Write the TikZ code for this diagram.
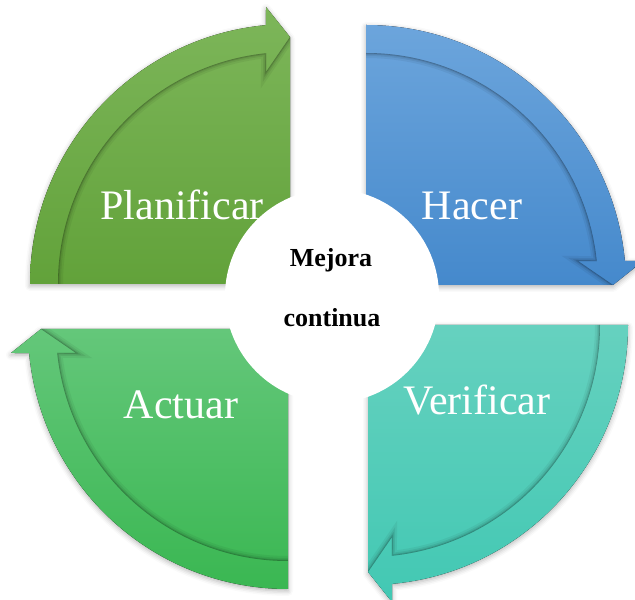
\documentclass[tikz,border=0pt]{standalone}
\usepackage{fontspec}
\setmainfont{Liberation Serif}
\usetikzlibrary{shadows.blur}

\definecolor{planA}{HTML}{7DB65A}
\definecolor{planB}{HTML}{62A23A}
\definecolor{hacerA}{HTML}{6CA5DC}
\definecolor{hacerB}{HTML}{4589CC}
\definecolor{verifA}{HTML}{66D1BF}
\definecolor{verifB}{HTML}{42C8B3}
\definecolor{actuarA}{HTML}{64C77A}
\definecolor{actuarB}{HTML}{3AB752}

\newcommand{\quadrant}[4]{%
  \begin{scope}[shift={#1},rotate=#2]
    \fill[top color=#3,bottom color=#4,blur shadow={shadow xshift=0pt,shadow yshift=-2pt,shadow blur radius=5pt,shadow opacity=30}]
      (0,0) -- (-260,0) arc[start angle=180,end angle=95.3,radius=260] -- (-24,277) -- (0,247) -- cycle;
    \begin{scope}
      \clip (0,0) -- (-232,0) arc[start angle=180,end angle=95.9,radius=232] -- (-24,212) -- (0,247) -- cycle;
      \foreach \w/\o in {10/0.05,6/0.07,3/0.1,1.2/0.14}
        \draw[band shadow,line width=\w pt,opacity=\o] (-232,0) arc[start angle=180,end angle=95.9,radius=232] -- (-24,212) -- (0,247);
    \end{scope}
  \end{scope}}

\begin{document}
\begin{tikzpicture}[x=1pt,y=1pt,band shadow/.style={black,line join=miter},
  label node/.style={text=white,anchor=base,font=\fontsize{42}{48}\selectfont},
  center node/.style={text=black,anchor=base,font=\bfseries\fontsize{26}{30}\selectfont}]
\useasboundingbox (0,0) rectangle (635,600);

\quadrant{(290,316)}{0}{planA}{planB}
\quadrant{(366,315)}{-90}{hacerA}{hacerB}
\quadrant{(368,275)}{-180}{verifA}{verifB}
\quadrant{(288,271)}{-270}{actuarA}{actuarB}

\node[label node] (plan) at (182,380) {Planificar};
\node[label node] (hacer) at (472,380) {Hacer};
\node[label node] (verif) at (477,185) {Verificar};
\node[label node] (actuar) at (181,181) {Actuar};

\node[circle,fill=white,minimum size=214pt,inner sep=0pt] (centro) at (332,304) {};
\node[center node] (mejora) at (331,333) {Mejora};
\node[center node] (continua) at (332,273) {continua};
\end{tikzpicture}
\end{document}
